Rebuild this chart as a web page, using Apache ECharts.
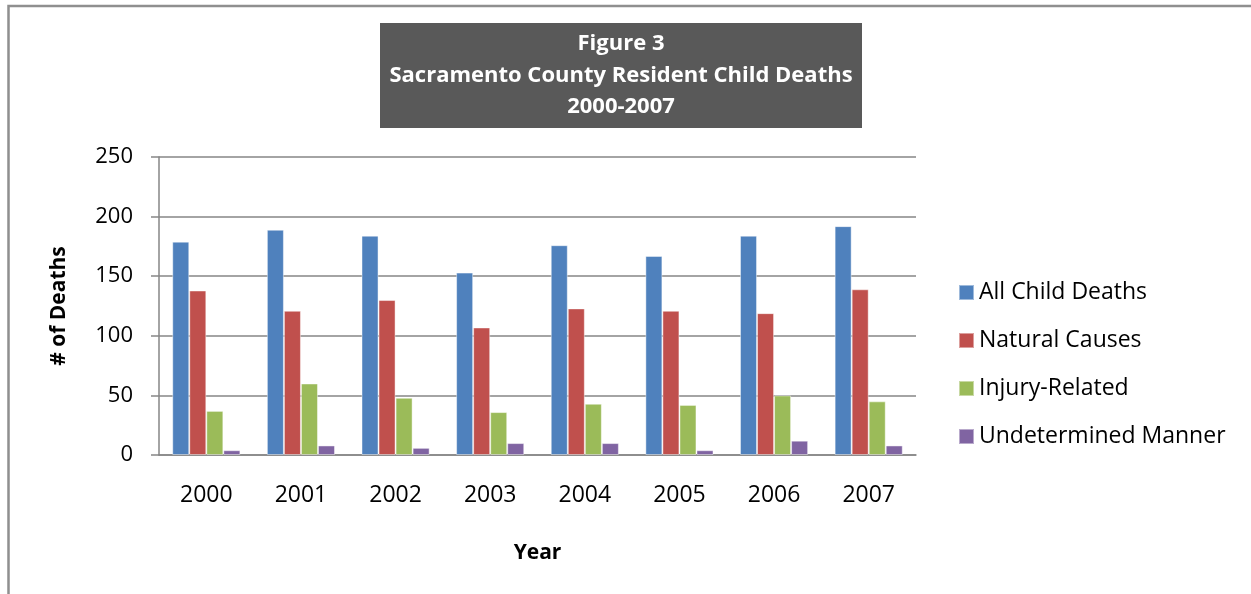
<!DOCTYPE html>
<html>
<head>
<meta charset="utf-8">
<script src="https://cdn.jsdelivr.net/npm/echarts@6/dist/echarts.min.js"></script>
<style>
  html, body { margin: 0; padding: 0; background: #fff; }
  #chart { width: 1251px; height: 594px; }
</style>
</head>
<body>
<div id="chart"></div>
<script>
// Sacramento County resident child deaths by manner, 2000-2007
const years = ['2000', '2001', '2002', '2003', '2004', '2005', '2006', '2007'];
const allChildDeaths = [179, 189, 184, 153, 176, 167, 184, 192];
const naturalCauses = [138, 121, 130, 107, 123, 121, 119, 139];
const injuryRelated = [37, 60, 48, 36, 43, 42, 50, 45];
const undeterminedManner = [4, 8, 6, 10, 10, 4, 12, 8];
const titleLines = ['Figure 3', 'Sacramento County Resident Child Deaths', '2000-2007'];

const FONT = '"Open Sans", "Liberation Sans", sans-serif';
const GRID_GRAY = '#868686';

const chart = echarts.init(document.getElementById('chart'), null, { renderer: 'canvas' });

function barSeries(name, data, color) {
  return {
    name: name,
    type: 'bar',
    data: data,
    barGap: '0%',
    barCategoryGap: '28%',
    itemStyle: { color: color, borderColor: 'rgba(255,255,255,0.45)', borderWidth: 1 },
    emphasis: { disabled: true }
  };
}

chart.setOption({
  animation: false,
  backgroundColor: '#ffffff',
  textStyle: { fontFamily: FONT },
  graphic: [
    {
      type: 'rect',
      silent: true,
      shape: { x: 8.5, y: 6, width: 1400, height: 800 },
      style: { fill: 'none', stroke: '#8f8f8f', lineWidth: 2.5 }
    },
    {
      type: 'rect',
      silent: true,
      shape: { x: 380, y: 23, width: 482, height: 105 },
      style: { fill: '#595959' }
    },
    {
      type: 'text',
      silent: true,
      x: 621,
      y: 75.5,
      style: {
        text: titleLines.join('\n'),
        fill: '#ffffff',
        font: 'bold 22px ' + FONT,
        lineHeight: 31.5,
        align: 'center',
        verticalAlign: 'middle'
      }
    }
  ],
  legend: {
    orient: 'vertical',
    left: 953,
    top: 276,
    padding: 5,
    itemWidth: 15,
    itemHeight: 15,
    itemGap: 25,
    icon: 'rect',
    selectedMode: false,
    textStyle: { fontFamily: FONT, fontSize: 23, color: '#000', lineHeight: 23 },
    data: ['All Child Deaths', 'Natural Causes', 'Injury-Related', 'Undetermined Manner']
  },
  grid: { left: 159, right: 335, top: 157, bottom: 139, containLabel: false },
  xAxis: {
    type: 'category',
    data: years,
    name: 'Year',
    nameLocation: 'middle',
    nameGap: 88,
    nameTextStyle: { fontFamily: FONT, fontSize: 21, fontWeight: 'bold', color: '#000' },
    axisLine: { lineStyle: { color: GRID_GRAY, width: 1.5 } },
    axisTick: { show: false },
    axisLabel: { fontFamily: FONT, fontSize: 23, color: '#000', margin: 29 }
  },
  yAxis: {
    type: 'value',
    min: 0,
    max: 250,
    interval: 50,
    name: '# of Deaths',
    nameLocation: 'middle',
    nameGap: 89,
    nameTextStyle: { fontFamily: FONT, fontSize: 21, fontWeight: 'bold', color: '#000' },
    axisLine: { show: true, lineStyle: { color: GRID_GRAY, width: 1.5 } },
    axisTick: { show: true, inside: false, length: 8, lineStyle: { color: GRID_GRAY, width: 1.5 } },
    axisLabel: { fontFamily: FONT, fontSize: 22, color: '#000', margin: 26 },
    splitLine: { show: true, lineStyle: { color: GRID_GRAY, width: 1.5 } }
  },
  series: [
    barSeries('All Child Deaths', allChildDeaths, '#4F81BD'),
    barSeries('Natural Causes', naturalCauses, '#C0504D'),
    barSeries('Injury-Related', injuryRelated, '#9BBB59'),
    barSeries('Undetermined Manner', undeterminedManner, '#8064A2')
  ]
});
</script>
</body>
</html>
